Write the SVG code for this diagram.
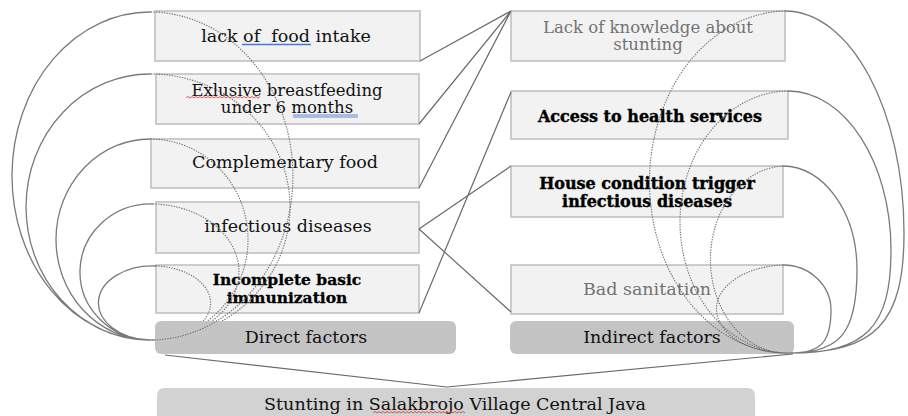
<svg xmlns="http://www.w3.org/2000/svg" width="908" height="416" viewBox="0 0 908 416">
<defs>
<style>
.box{fill:#f2f2f2;stroke:#bdbdbd;stroke-width:1.5}
.grp{fill:#c4c4c4;stroke:none}
.base{fill:#d2d2d2;stroke:none}
text{font-family:"DejaVu Serif","Liberation Serif",serif;font-size:17.5px;fill:#111;text-anchor:middle;white-space:pre}
.t2{font-size:16.5px}
.b{font-weight:bold;font-size:16px;fill:#000;stroke:#000;stroke-width:0.4}
.b2{font-size:15.5px;stroke-width:0.3}
.g{fill:#727272}
.ln{fill:none;stroke:#6a6a6a;stroke-width:1.2}
.arc{fill:none;stroke:#7a7a7a;stroke-width:1.3}
.dot{fill:none;stroke:#6a6a6a;stroke-width:1.1;stroke-dasharray:1.3 1.3}
.sq{fill:none;stroke:#e03030;stroke-width:0.8}
.ul{fill:none;stroke:#4a78d8;stroke-width:1.3}
</style>
</defs>
<rect x="157" y="388" width="598" height="40" rx="7" class="base"/>
<g id="n-lack-food"><rect x="155" y="11" width="265" height="50" class="box"/><text x="286" y="42">lack of  food intake</text><line x1="242" y1="44.5" x2="311" y2="44.5" class="ul"/></g>
<g id="n-breastfeeding"><rect x="156" y="74" width="263" height="50" class="box"/><text x="287" y="95.5" class="t2">Exlusive breastfeeding</text><text x="287" y="113" class="t2">under 6 months</text><path d="M186,98 l2,-1.5 l2,1.5 l2,-1.5 l2,1.5 l2,-1.5 l2,1.5 l2,-1.5 l2,1.5 l2,-1.5 l2,1.5 l2,-1.5 l2,1.5 l2,-1.5 l2,1.5 l2,-1.5 l2,1.5 l2,-1.5 l2,1.5 l2,-1.5 l2,1.5 l2,-1.5 l2,1.5 l2,-1.5 l2,1.5 l2,-1.5 l2,1.5 l2,-1.5 l2,1.5 l2,-1.5 l2,1.5 l2,-1.5 l2,1.5 l2,-1.5 l2,1.5 l2,-1.5 l2,1.5 l2,-1.5" class="sq"/><path d="M293,115 H358 M293,117 H358" class="ul" style="stroke-width:0.9"/></g>
<g id="n-complementary"><rect x="151" y="139" width="268" height="49" class="box"/><text x="285" y="168">Complementary food</text></g>
<g id="n-infectious"><rect x="156" y="202" width="263" height="51" class="box"/><text x="288" y="232">infectious diseases</text></g>
<g id="n-immunization"><rect x="156" y="265" width="263" height="48" class="box"/><text x="287" y="285" class="b b2">Incomplete basic</text><text x="287" y="303" class="b b2">immunization</text></g>
<g id="n-knowledge"><rect x="511" y="11" width="274" height="50" class="box"/><text x="648" y="32.5" class="g t2">Lack of knowledge about</text><text x="648" y="50" class="g t2">stunting</text></g>
<g id="n-access"><rect x="511" y="91" width="277" height="48" class="box"/><text x="650" y="122" class="b">Access to health services</text></g>
<g id="n-house"><rect x="511" y="166" width="272" height="51" class="box"/><text x="647" y="189" class="b">House condition trigger</text><text x="647" y="207" class="b">infectious diseases</text></g>
<g id="n-sanitation"><rect x="511" y="265" width="272" height="49" class="box"/><text x="647" y="295" class="g">Bad sanitation</text></g>
<g id="n-stunting"><text x="455" y="410">Stunting in Salakbrojo Village Central Java</text><path d="M373,413 l2,-1.5 l2,1.5 l2,-1.5 l2,1.5 l2,-1.5 l2,1.5 l2,-1.5 l2,1.5 l2,-1.5 l2,1.5 l2,-1.5 l2,1.5 l2,-1.5 l2,1.5 l2,-1.5 l2,1.5 l2,-1.5 l2,1.5 l2,-1.5 l2,1.5 l2,-1.5 l2,1.5 l2,-1.5 l2,1.5 l2,-1.5 l2,1.5 l2,-1.5 l2,1.5 l2,-1.5 l2,1.5 l2,-1.5 l2,1.5 l2,-1.5 l2,1.5 l2,-1.5 l2,1.5 l2,-1.5 l2,1.5 l2,-1.5 l2,1.5 l2,-1.5 l2,1.5 l2,-1.5 l2,1.5 l2,-1.5 l2,1.5" class="sq"/></g>
<g id="connectors">
<path class="ln" d="M420,61 L511,11 M419,124 L511,11 M419,188 L511,11 M419,229 L511,166 M419,229 L511,312 M419,313 L511,92"/>
<path class="ln" d="M165,355 L447,387 L793,354"/>
<path class="arc" d="M151,12 A138,164 0 0 0 149,340 M151,74 A124,133 0 0 0 149,340 M151,139 A94,100.5 0 0 0 149,340 M153,204 A71,68 0 0 0 149,340 M156,266 A54,37 0 0 0 149,340"/>
<path class="dot" d="M151,74 A140,133 0 0 1 149,340 M151,139 A98,100.5 0 0 1 149,340 M153,204 A88,68 0 0 1 149,340 M156,266 A58,37 0 0 1 149,340"/>
</g>
<g id="n-direct"><rect x="155" y="321" width="301" height="33" rx="6" class="grp"/><text x="306" y="343">Direct factors</text></g>
<g id="n-indirect"><rect x="510" y="321" width="284" height="33" rx="6" class="grp"/><text x="652" y="343">Indirect factors</text></g>
<g id="connectors-top">
<path class="dot" d="M151,12 A143,164 0 0 1 149,340"/>
<path class="arc" d="M785,11 C850.7,11 904,110.5 904,233 C904,323 875.5,353 790,353 M788,91 C844.9,91 891,162.2 891,250 C891,327.3 865.8,353 790,353 M783,166 C823.8,166 857,212.6 857,270 C857,332.3 840.3,353 790,353 M783,265 C809.5,265 831,285.2 831,310 C831,342.3 820.8,353 790,353"/>
<path class="dot" d="M785,11 A138,171 0 0 0 790,353 M788,91 A109,131 0 0 0 790,353 M783,166 A76,93.5 0 0 0 790,353 M783,265 A70,44 0 0 0 790,353"/>
</g>
</svg>
